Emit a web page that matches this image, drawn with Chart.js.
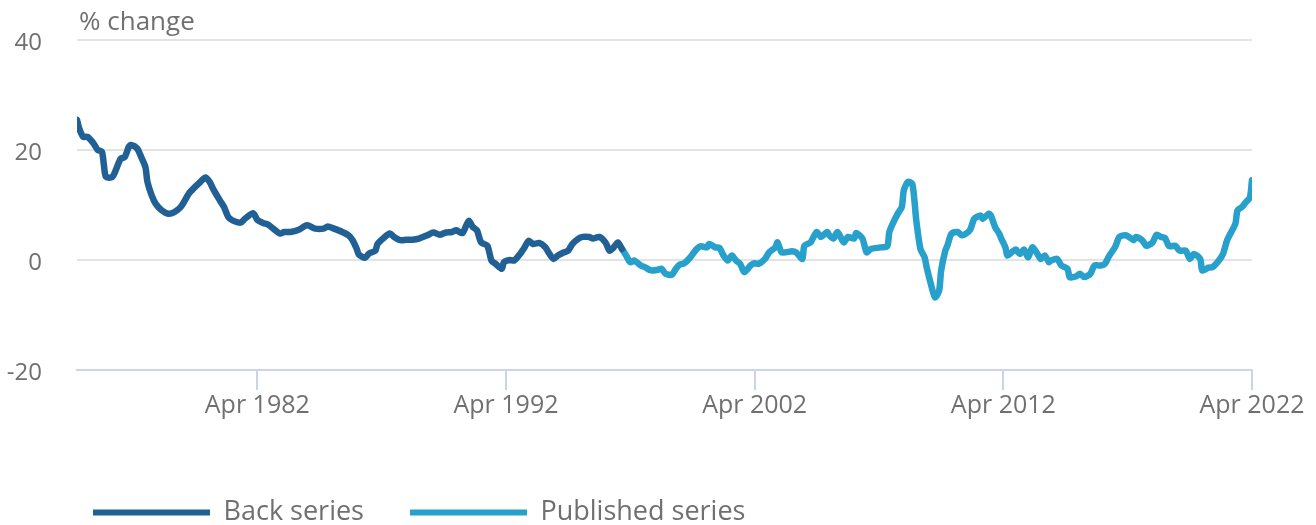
<!DOCTYPE html>
<html><head><meta charset="utf-8">
<script src="https://cdn.jsdelivr.net/npm/chart.js@4.4.1/dist/chart.umd.min.js"></script>
<style>html,body{margin:0;padding:0;background:#fff}#wrap{width:1316px;height:525px;position:relative}</style>
</head><body><div id="wrap"><canvas id="c" width="1316" height="525"></canvas></div>
<script>
// x values are months since Jan 1975
const backMonths = [0,1,3,5,8,10,12,13,14,17,19,21,23,25,26,29,31,33,34,36,38,41,44,47,50,52,54,57,59,62,64,66,69,71,73,75,79,81,85,87,90,92,95,98,100,103,107,111,115,119,121,124,128,131,133,135,136,139,141,144,145,148,151,153,156,159,162,165,169,172,175,178,181,183,186,189,191,193,195,198,200,202,205,206,209,211,214,216,218,220,223,226,228,230,232,235,237,239,242,244,247,249,252,255,257,259,261,263];
const backValues = [25.5,24.0,22.4,22.4,21.2,20.0,19.7,17.2,15.1,15.1,16.6,18.4,18.7,20.6,20.9,20.3,18.7,16.9,14.2,11.8,10.2,9.0,8.4,8.7,9.6,10.8,12.1,13.3,14.0,15.0,14.2,12.7,10.8,9.6,7.8,7.2,6.8,7.5,8.5,7.3,6.7,6.5,5.6,4.8,5.1,5.1,5.5,6.3,5.7,5.7,6.1,5.7,5.1,4.5,3.6,2.0,1.0,0.4,1.2,1.7,2.9,4.0,4.8,4.2,3.6,3.7,3.7,3.9,4.5,5.0,4.6,5.0,5.1,5.4,4.9,7.1,6.0,5.4,3.2,2.6,-0.1,-0.7,-1.6,-0.4,0.0,-0.1,1.2,2.3,3.5,2.9,3.1,2.3,1.1,0.2,0.8,1.4,1.7,2.9,3.9,4.2,4.2,3.9,4.2,3.2,1.7,2.3,3.2,2.0];
const pubMonths = [263,265,267,269,272,274,277,280,282,284,287,289,291,293,296,299,301,304,305,308,310,312,314,316,318,320,322,325,327,329,332,334,337,338,340,342,345,347,350,351,354,355,357,359,362,363,365,367,370,372,375,376,379,381,383,386,388,391,392,394,396,398,399,401,403,404,405,407,409,410,412,414,416,417,419,420,422,425,427,429,431,433,436,437,440,441,443,445,446,448,449,451,453,455,457,459,461,463,465,467,469,470,473,475,478,479,482,484,486,489,491,494,496,498,501,503,506,508,510,511,514,516,519,521,523,525,527,530,532,535,537,539,542,543,546,548,551,553,555,557,559,560,562,564,566,567];
const pubValues = [2.0,0.8,-0.4,-0.1,-1.0,-1.3,-1.9,-1.8,-1.6,-2.5,-2.7,-1.6,-0.8,-0.6,0.5,2.0,2.5,2.3,2.9,2.3,2.2,0.8,-0.1,0.8,-0.1,-0.7,-2.2,-1.0,-0.6,-0.7,0.2,1.4,2.3,3.2,1.4,1.4,1.6,1.4,0.2,2.6,3.2,3.9,5.1,4.2,5.1,4.5,3.9,5.1,3.2,4.2,3.9,4.9,3.9,1.4,2.0,2.2,2.3,2.5,5.1,6.9,8.4,9.6,12.7,14.2,13.9,11.2,7.2,2.0,0.5,-1.3,-4.3,-6.8,-5.6,-1.9,1.7,2.6,4.8,5.1,4.5,4.8,5.5,7.5,8.1,7.5,8.4,8.1,6.0,4.8,3.9,2.3,0.8,1.4,1.9,1.1,1.9,0.5,2.3,1.4,0.2,0.8,-0.4,-0.1,0.2,-1.0,-1.6,-3.1,-3.0,-2.5,-3.1,-2.5,-1.0,-1.0,-0.7,0.7,2.4,4.2,4.5,4.1,3.6,4.2,3.6,2.6,3.2,4.6,4.2,4.0,2.5,2.6,1.7,1.7,0.2,1.1,0.2,-1.9,-1.4,-1.3,-0.1,1.1,3.6,5.1,6.6,9.0,9.6,10.5,11.4,14.5];
const tickMonths = [87,207,327,447,567];
const tickLabels = ["Apr 1982","Apr 1992","Apr 2002","Apr 2012","Apr 2022"];
const yTicks = [-20,0,20,40];
const seriesNames = ["Back series","Published series"];
const yTitle = "% change";

const GRAY = '#707070';
const FONT = 'Open Sans';

const extras = {
  id: 'extras',
  beforeDraw(chart) {
    chart.legend.left = 47;
    chart.legend.top = 453;
  },
  afterDraw(chart) {
    const c = chart.ctx;
    c.save();
    c.font = '26px "' + FONT + '"';
    c.fillStyle = GRAY;
    c.textBaseline = 'middle';
    c.textAlign = 'left';
    c.fillText(yTitle, chart.chartArea.left + 2, 23);
    c.restore();
  }
};

new Chart(document.getElementById('c'), {
  type: 'line',
  data: {
    datasets: [
      { label: seriesNames[0], data: backMonths.map((m, i) => ({x: m, y: backValues[i]})),
        borderColor: '#206095', backgroundColor: '#206095', borderWidth: 6.5, pointRadius: 0,
        tension: 0.25, borderCapStyle: 'round', borderJoinStyle: 'round' },
      { label: seriesNames[1], data: pubMonths.map((m, i) => ({x: m, y: pubValues[i]})),
        borderColor: '#27a0cc', backgroundColor: '#27a0cc', borderWidth: 6.5, pointRadius: 0,
        tension: 0.25, borderCapStyle: 'round', borderJoinStyle: 'round' }
    ]
  },
  options: {
    responsive: false,
    devicePixelRatio: 1,
    animation: false,
    layout: { padding: { top: 40, right: 64, left: 0, bottom: 0 } },
    scales: {
      x: {
        type: 'linear', min: 0, max: 567,
        afterBuildTicks: s => { s.ticks = tickMonths.map(v => ({value: v})); },
        afterFit: s => { s.height = 72; },
        ticks: { callback: (v, i) => tickLabels[i], autoSkip: false, maxRotation: 0,
                 font: { family: FONT, size: 25 }, color: GRAY, padding: 1 },
        grid: { drawOnChartArea: false, drawTicks: true, tickLength: 20, color: '#c9d6ea', lineWidth: 2 },
        border: { display: true, color: '#c9d6ea', width: 2 }
      },
      y: {
        min: -20, max: 40,
        afterBuildTicks: s => { s.ticks = yTicks.map(v => ({value: v})); },
        afterFit: s => { s.width = 77; },
        ticks: { font: { family: FONT, size: 24 }, color: GRAY, padding: 0, labelOffset: 3 },
        grid: { drawTicks: true, tickLength: 35, tickColor: 'rgba(0,0,0,0)', lineWidth: 2,
                color: c => (c.tick && c.tick.value === -20) ? 'rgba(0,0,0,0)' : '#e3e3e3' },
        border: { display: false }
      }
    },
    plugins: {
      tooltip: { enabled: false },
      legend: {
        position: 'bottom', align: 'start',
        labels: {
          boxWidth: 117, boxHeight: 6, padding: 46, color: GRAY,
          font: { family: FONT, size: 27 },
          generateLabels: chart => Chart.defaults.plugins.legend.labels.generateLabels(chart)
            .map(l => Object.assign(l, { lineWidth: 0 }))
        }
      }
    }
  },
  plugins: [extras]
});
</script>
</body></html>
